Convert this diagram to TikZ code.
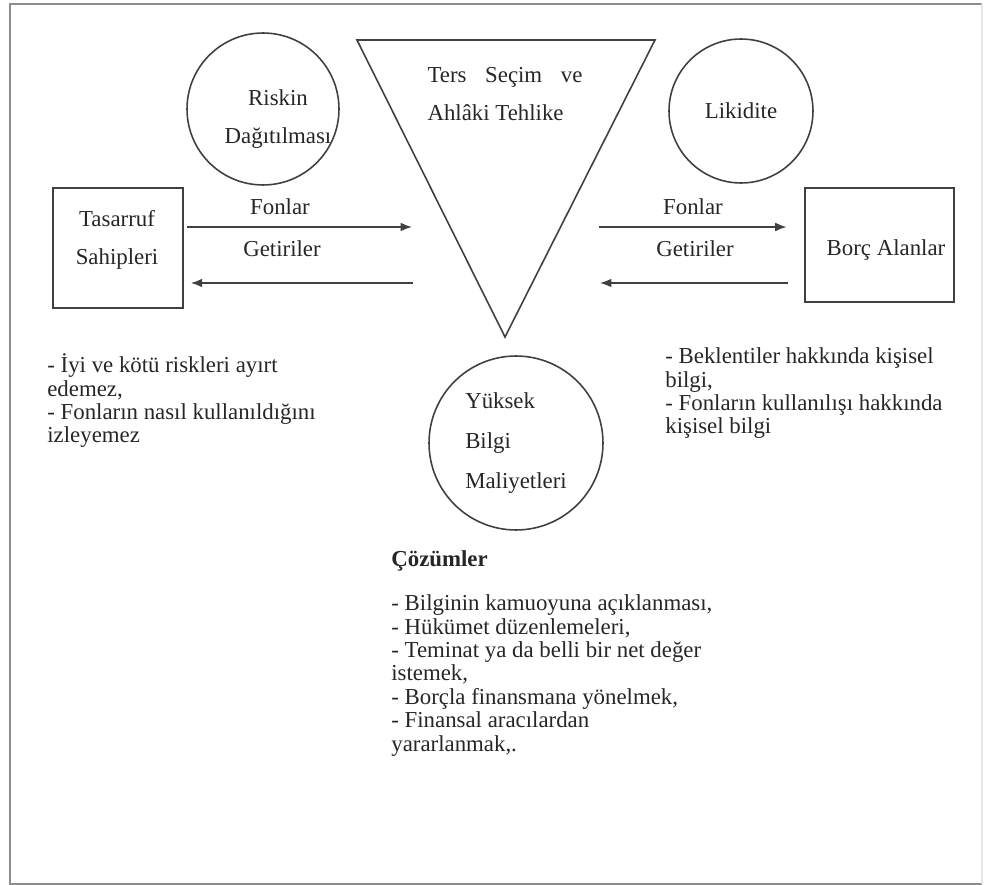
\documentclass[tikz,border=0pt]{standalone}
\usepackage{fontspec}
\setmainfont{Liberation Serif}
\usetikzlibrary{arrows.meta}

\begin{document}
\begin{tikzpicture}[x=0.02cm, y=-0.02cm,
        cizgi/.style={draw=black!75, line width=0.9pt},
        kutu/.style={cizgi, rectangle, inner sep=0pt},
        daire/.style={cizgi, circle, inner sep=0pt},
        yazi/.style={text=black!85, font=\fontsize{13pt}{21.5pt}\selectfont, align=center},
        liste/.style={text=black!85, font=\fontsize{13pt}{13.3pt}\selectfont, align=left, anchor=base west, inner sep=0pt},
        ok/.style={cizgi, -{Latex[length=6.5pt, width=5pt]}}]
        \useasboundingbox (0,0) rectangle (985,885);

        % Frame.
        \draw[black!45, line width=1.6pt] (982,4) -- (10,4) -- (10,884) -- (982,884);
        \draw[black!10, line width=1pt] (982,4) -- (982,884);

        % Triangle.
        \coordinate (tl) at (357,40);
        \coordinate (tr) at (655,40);
        \coordinate (tip) at (505,337);
        \draw[cizgi] (tl) -- (tr) -- (tip) -- cycle;
        \node[yazi, align=left] (ters) at (505,94) {\makebox[3.1cm][s]{Ters Seçim ve}\\Ahlâki Tehlike};

        % Circles.
        \node[daire, minimum size=3.04cm] (risk) at (263,109) {};
        \node[yazi] (risktxt) at (278,119) {Riskin\\Dağıtılması};
        \node[daire, yazi, minimum size=2.88cm] (likit) at (741,111) {Likidite};
        \node[daire, yazi, align=left, font=\fontsize{13pt}{22.7pt}\selectfont, minimum size=3.48cm] (yuksek) at (516,443) {Yüksek\\Bilgi\\Maliyetleri};

        % Boxes.
        \node[kutu, minimum width=2.6cm, minimum height=2.4cm] (tas) at (118,248) {};
        \node[yazi] (tastxt) at (117,240) {Tasarruf\\Sahipleri};
        \node[kutu, minimum width=2.98cm, minimum height=2.28cm] (borc) at (879.5,245) {};
        \node[yazi] (borctxt) at (886,250) {Borç Alanlar};

        % Arrows.
        \coordinate (fonA) at (412,227);
        \coordinate (getA) at (413,283);
        \coordinate (fonB) at (599,227);
        \coordinate (getB) at (600,283);
        \draw[ok, shorten <=2pt] (tas.east |- fonA) -- (fonA);
        \draw[ok, shorten >=4pt] (getA) -- (tas.east |- getA);
        \draw[ok, shorten >=10pt] (fonB) -- (borc.west |- fonB);
        \draw[ok, shorten <=9.5pt] (borc.west |- getB) -- (getB);
        \node[yazi] (fonAtxt) at (280,207) {Fonlar};
        \node[yazi] (getAtxt) at (282,249) {Getiriler};
        \node[yazi] (fonBtxt) at (693,207) {Fonlar};
        \node[yazi] (getBtxt) at (695,249) {Getiriler};

        % Lists (base = last line).
        \node[liste] (sol) at (47,443) {- İyi ve kötü riskleri ayırt\\edemez,\\- Fonların nasıl kullanıldığını\\izleyemez};
        \node[liste] (sag) at (665,434) {- Beklentiler hakkında kişisel\\bilgi,\\- Fonların kullanılışı hakkında\\kişisel bilgi};
        \node[liste, font=\fontsize{13pt}{13.3pt}\selectfont\bfseries] (coz) at (391,566) {Çözümler};
        \node[liste] (cozlist) at (391,751) {- Bilginin kamuoyuna açıklanması,\\- Hükümet düzenlemeleri,\\- Teminat ya da belli bir net değer\\istemek,\\- Borçla finansmana yönelmek,\\- Finansal aracılardan\\yararlanmak,.};
    \end{tikzpicture}
\end{document}
